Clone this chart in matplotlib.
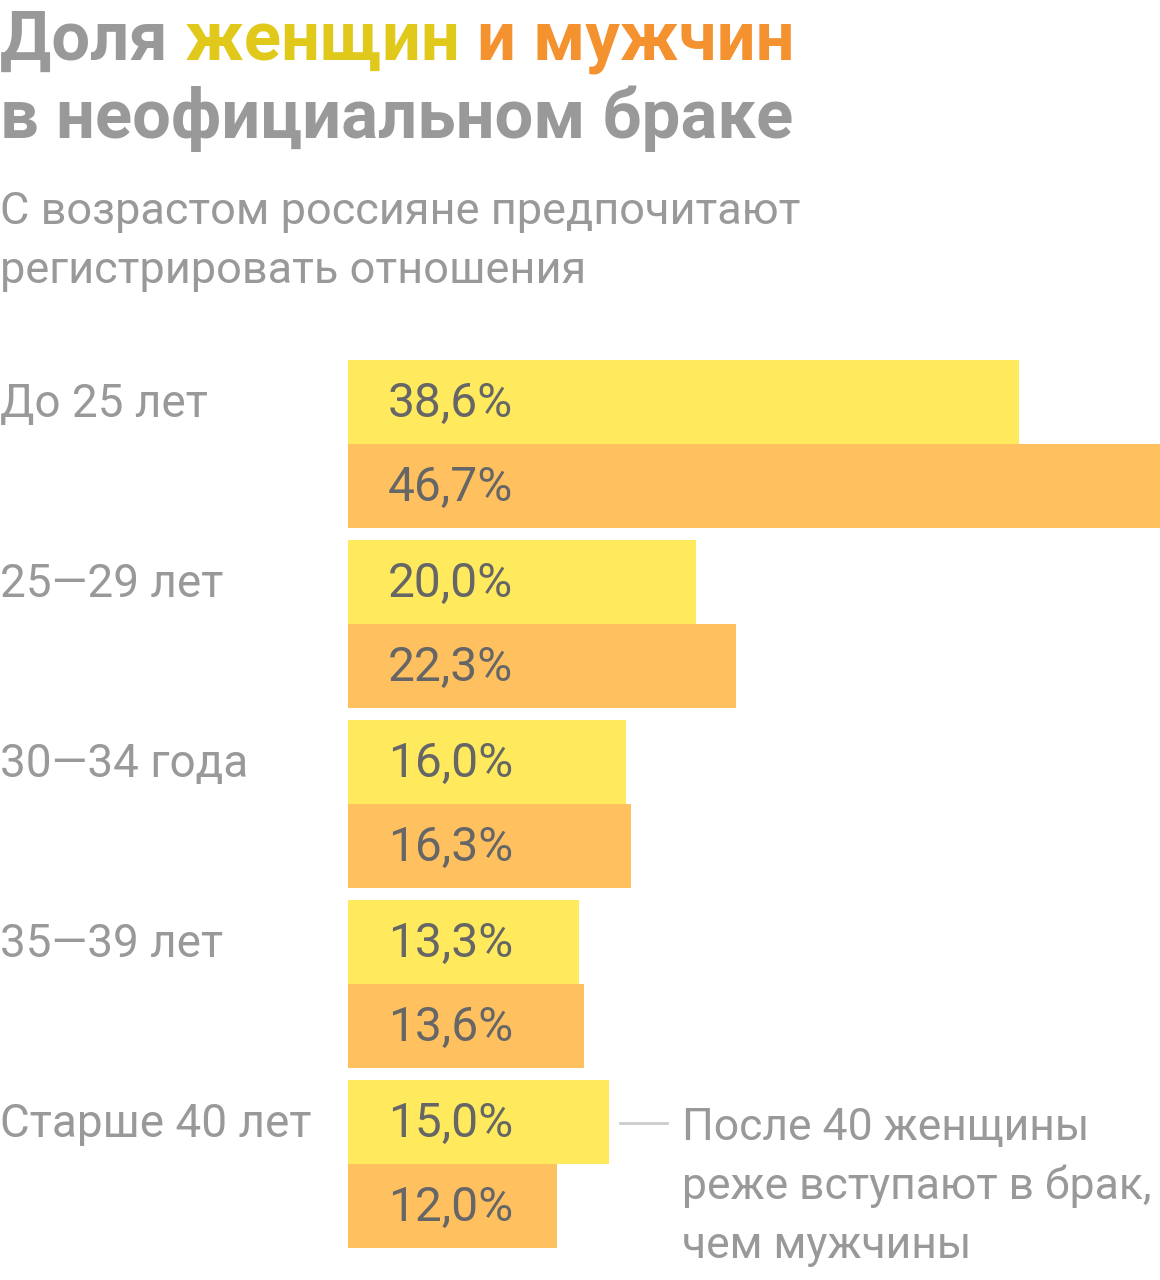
import matplotlib
matplotlib.use('Agg')
import matplotlib.pyplot as plt
import numpy as np

plt.rcParams['font.family'] = ['Roboto', 'DejaVu Sans']

# Data
categories = ['До 25 лет', '25—29 лет', '30—34 года', '35—39 лет', 'Старше 40 лет']
women = [38.6, 20.0, 16.0, 13.3, 15.0]
men = [46.7, 22.3, 16.3, 13.6, 12.0]

W, H = 1160, 1280
YELLOW = '#FFEA5E'
ORANGE = '#FFC160'
GRAY = '#999999'
DARK = '#666666'


def fx(px):
    return px / W


def fy(py):
    return 1 - py / H


fig = plt.figure(figsize=(W / 100, H / 100), dpi=100)

# Title with coloured words
title_parts = [('Доля ', GRAY), ('женщин ', '#E0C91A'), ('и мужчин', '#F4922F')]
renderer = fig.canvas.get_renderer()
x = 0
for txt, col in title_parts:
    t = fig.text(fx(x), fy(60), txt, fontsize=49.5, fontweight='bold', color=col,
                 ha='left', va='baseline')
    x += t.get_window_extent(renderer).width
fig.text(0, fy(138), 'в неофициальном браке', fontsize=49.5, fontweight='bold',
         color=GRAY, ha='left', va='baseline')

# Subtitle
fig.text(0, fy(224), 'С возрастом россияне предпочитают', fontsize=32.5,
         color=GRAY, ha='left', va='baseline')
fig.text(0, fy(283), 'регистрировать отношения', fontsize=32.5,
         color=GRAY, ha='left', va='baseline')

# Bars
ax = fig.add_axes([fx(348), fy(1248), 1 - fx(348), fy(360) - fy(1248)])
h = 84 / 180
y = np.arange(len(categories))
ax.barh(y - h / 2, women, height=h, color=YELLOW)
ax.barh(y + h / 2, men, height=h, color=ORANGE)
ax.set_xlim(0, max(men))
ax.set_ylim(len(categories) - 1 + h, -h)
ax.axis('off')

for i in range(len(categories)):
    for val, yy in ((women[i], y[i] - h / 2), (men[i], y[i] + h / 2)):
        ax.annotate(f'{val:.1f}'.replace('.', ',') + '%', xy=(0, yy),
                    xytext=(40 * 0.72, -15 * 0.72), textcoords='offset points',
                    fontsize=34.5, color=DARK, ha='left', va='baseline')
    ax.annotate(categories[i], xy=(0, y[i] - h / 2), xycoords=('figure fraction', 'data'),
                xytext=(0, -15 * 0.72), textcoords='offset points',
                fontsize=33, color=GRAY, ha='left', va='baseline', annotation_clip=False)

# Annotation for last group
fig.add_artist(plt.Line2D([fx(620), fx(667)], [fy(1123), fy(1123)], color='#cccccc', lw=2))
for k, line in enumerate(['После 40 женщины', 'реже вступают в брак,', 'чем мужчины']):
    fig.text(fx(682), fy(1140 + 59 * k), line, fontsize=32, color=GRAY,
             ha='left', va='baseline')

fig.savefig('out.png', dpi=100, facecolor='white')
